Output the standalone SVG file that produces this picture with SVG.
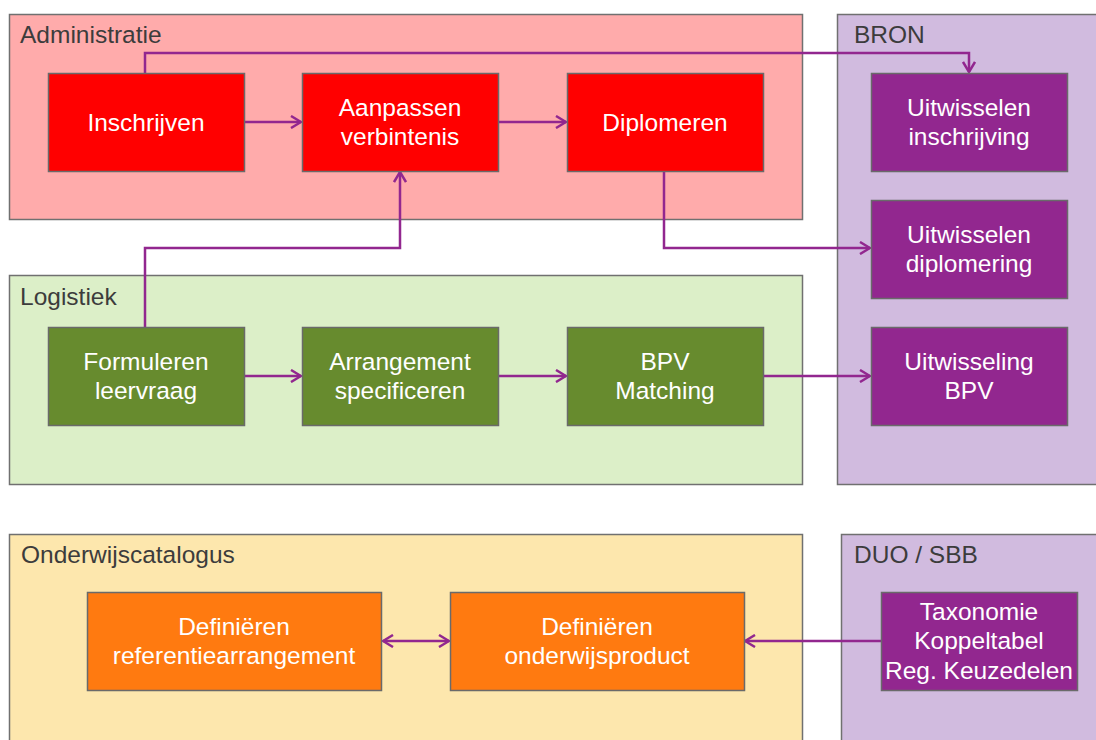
<svg xmlns="http://www.w3.org/2000/svg" width="1096" height="740" viewBox="0 0 1096 740">
<defs>
<style>
.grp{stroke:#707070;stroke-width:1.5}
.node{stroke:#6a6a6a;stroke-width:1.5}
.title{font-family:"Liberation Sans",Arial,sans-serif;font-size:24.5px;fill:#3c3c3c}
.lbl{font-family:"Liberation Sans",Arial,sans-serif;font-size:24.5px;fill:#ffffff;text-anchor:middle}
.red{fill:#ff0000}
.green{fill:#678b2e}
.purple{fill:#92278f}
.orange{fill:#ff7a10}
.conn{fill:none;stroke:#92278f;stroke-width:2.5}
</style>
<marker id="ah" viewBox="0 0 12 14" refX="11" refY="7" markerWidth="12" markerHeight="14" markerUnits="userSpaceOnUse" orient="auto-start-reverse">
<path d="M1,1 L11,7 L1,13" fill="none" stroke="#92278f" stroke-width="2.5"/>
</marker>
</defs>
<rect width="1096" height="740" fill="#ffffff"/>
<g id="group-administratie">
<rect class="grp" x="9.5" y="14.5" width="793" height="205" fill="#ffabab"/>
<text class="title" x="20" y="43">Administratie</text>
</g>
<g id="group-bron">
<rect class="grp" x="837.5" y="14.5" width="270" height="470" fill="#d1bbdf"/>
<text class="title" x="854" y="43">BRON</text>
</g>
<g id="group-logistiek">
<rect class="grp" x="9.5" y="275.5" width="793" height="209" fill="#dcefc8"/>
<text class="title" x="20" y="305">Logistiek</text>
</g>
<g id="group-onderwijscatalogus">
<rect class="grp" x="9.5" y="534.5" width="793" height="220" fill="#fde7ad"/>
<text class="title" x="21" y="563">Onderwijscatalogus</text>
</g>
<g id="group-duo-sbb">
<rect class="grp" x="841.5" y="534.5" width="270" height="220" fill="#d1bbdf"/>
<text class="title" x="854" y="563">DUO / SBB</text>
</g>
<g id="connectors">
<path class="conn" d="M145,73 V53 H969 V72" marker-end="url(#ah)"/>
<path class="conn" d="M244,122 H301" marker-end="url(#ah)"/>
<path class="conn" d="M498,122 H566" marker-end="url(#ah)"/>
<path class="conn" d="M664,171 V248 H870" marker-end="url(#ah)"/>
<path class="conn" d="M145,327 V248 H400 V172" marker-end="url(#ah)"/>
<path class="conn" d="M244,376 H301" marker-end="url(#ah)"/>
<path class="conn" d="M499,376 H566" marker-end="url(#ah)"/>
<path class="conn" d="M763,376 H870" marker-end="url(#ah)"/>
<path class="conn" d="M383,641 H449" marker-start="url(#ah)" marker-end="url(#ah)"/>
<path class="conn" d="M881,641 H745" marker-end="url(#ah)"/>
</g>
<g id="node-inschrijven">
<rect class="node red" x="48.5" y="73.5" width="196" height="98"/>
<text class="lbl" x="146" y="131">Inschrijven</text>
</g>
<g id="node-aanpassen-verbintenis">
<rect class="node red" x="302.5" y="73.5" width="196" height="98"/>
<text class="lbl" x="400" y="116">Aanpassen</text>
<text class="lbl" x="400" y="145">verbintenis</text>
</g>
<g id="node-diplomeren">
<rect class="node red" x="567.5" y="73.5" width="196" height="98"/>
<text class="lbl" x="665" y="131">Diplomeren</text>
</g>
<g id="node-uitwisselen-inschrijving">
<rect class="node purple" x="871.5" y="73.5" width="196" height="98"/>
<text class="lbl" x="969" y="116">Uitwisselen</text>
<text class="lbl" x="969" y="145">inschrijving</text>
</g>
<g id="node-uitwisselen-diplomering">
<rect class="node purple" x="871.5" y="200.5" width="196" height="98"/>
<text class="lbl" x="969" y="243">Uitwisselen</text>
<text class="lbl" x="969" y="272">diplomering</text>
</g>
<g id="node-uitwisseling-bpv">
<rect class="node purple" x="871.5" y="327.5" width="196" height="98"/>
<text class="lbl" x="969" y="370">Uitwisseling</text>
<text class="lbl" x="969" y="399">BPV</text>
</g>
<g id="node-formuleren-leervraag">
<rect class="node green" x="48.5" y="327.5" width="196" height="98"/>
<text class="lbl" x="146" y="370">Formuleren</text>
<text class="lbl" x="146" y="399">leervraag</text>
</g>
<g id="node-arrangement-specificeren">
<rect class="node green" x="302.5" y="327.5" width="196" height="98"/>
<text class="lbl" x="400" y="370">Arrangement</text>
<text class="lbl" x="400" y="399">specificeren</text>
</g>
<g id="node-bpv-matching">
<rect class="node green" x="567.5" y="327.5" width="196" height="98"/>
<text class="lbl" x="665" y="370">BPV</text>
<text class="lbl" x="665" y="399">Matching</text>
</g>
<g id="node-definieren-referentiearrangement">
<rect class="node orange" x="87.5" y="592.5" width="294" height="98"/>
<text class="lbl" x="234" y="635">Definiëren</text>
<text class="lbl" x="234" y="664">referentiearrangement</text>
</g>
<g id="node-definieren-onderwijsproduct">
<rect class="node orange" x="450.5" y="592.5" width="294" height="98"/>
<text class="lbl" x="597" y="635">Definiëren</text>
<text class="lbl" x="597" y="664">onderwijsproduct</text>
</g>
<g id="node-taxonomie">
<rect class="node purple" x="881.5" y="592.5" width="196" height="98"/>
<text class="lbl" x="979" y="620">Taxonomie</text>
<text class="lbl" x="979" y="649">Koppeltabel</text>
<text class="lbl" x="979" y="679">Reg. Keuzedelen</text>
</g>
</svg>
